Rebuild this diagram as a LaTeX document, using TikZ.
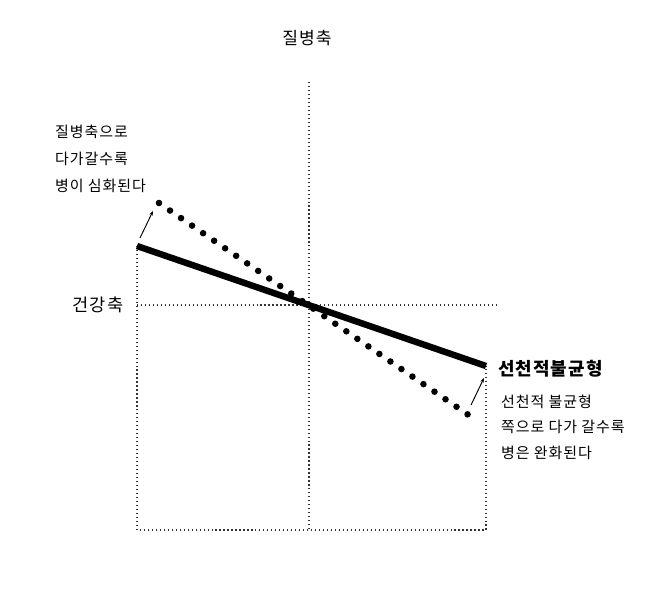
\documentclass[tikz,border=0pt]{standalone}
\usepackage{fontspec}
\setmainfont{Noto Sans CJK KR}[LetterSpace=6]
\usetikzlibrary{arrows.meta}
\tikzset{
  guide/.style={line width=1pt, dash pattern=on 1pt off 2.4pt, black!80},
  healthline/.style={line width=5.5pt, black},
  illline/.style={line width=5.6pt, dash pattern=on 0pt off 11.4pt, line cap=round, black},
  moveto/.style={line width=0.8pt, -{Stealth[length=4pt,width=3pt]}},
  note/.style={inner sep=0pt, align=left, anchor=north west, font=\fontsize{12.8}{23}\selectfont}
}
\begin{document}
\begin{tikzpicture}[x=0.03cm,y=-0.03cm]
\useasboundingbox (0,0) rectangle (671,609);
\coordinate (ctop) at (309,82);
\coordinate (cbot) at (309,530);
\coordinate (lbot) at (137,530);
\coordinate (rbot) at (486,530);
\coordinate (ltop) at (137,246);
\coordinate (rtop) at (486,366);
\coordinate (hl) at (137,305);
\coordinate (hr) at (498,305);
\coordinate (il) at (159,203);
\coordinate (ir) at (470,416);
\coordinate (la) at (140,238);
\coordinate (lb) at (153,211);
\coordinate (ra) at (471,405);
\coordinate (rb) at (484,378);
\draw[guide] (ctop) -- (cbot);
\draw[guide] (hl) -- (hr);
\draw[guide] (ltop) -- (lbot) -- (rbot) -- (rtop);
\draw[healthline] (ltop) -- (rtop);
\draw[illline] (il) -- (ir);
\draw[moveto] (la) -- (lb);
\draw[moveto] (ra) -- (rb);
\node[inner sep=0pt, font=\fontsize{14.6}{17}\selectfont] (illaxis) at (307,38) {질병축};
\node[inner sep=0pt, font=\fontsize{15}{17}\selectfont] (healthaxis) at (98,305) {건강축};
\node[note] (illnote) at (55,125) {질병축으로\\다가갈수록\\병이 심화된다};
\node[inner sep=0pt, anchor=west, font=\fontsize{15.3}{17}\bfseries] (innate) at (498,369) {선천적불균형};
\node[note, font=\fontsize{12.8}{21.5}\selectfont] (innatenote) at (501,395) {선천적 불균형\\쪽으로 다가 갈수록\\병은 완화된다};
\end{tikzpicture}
\end{document}
